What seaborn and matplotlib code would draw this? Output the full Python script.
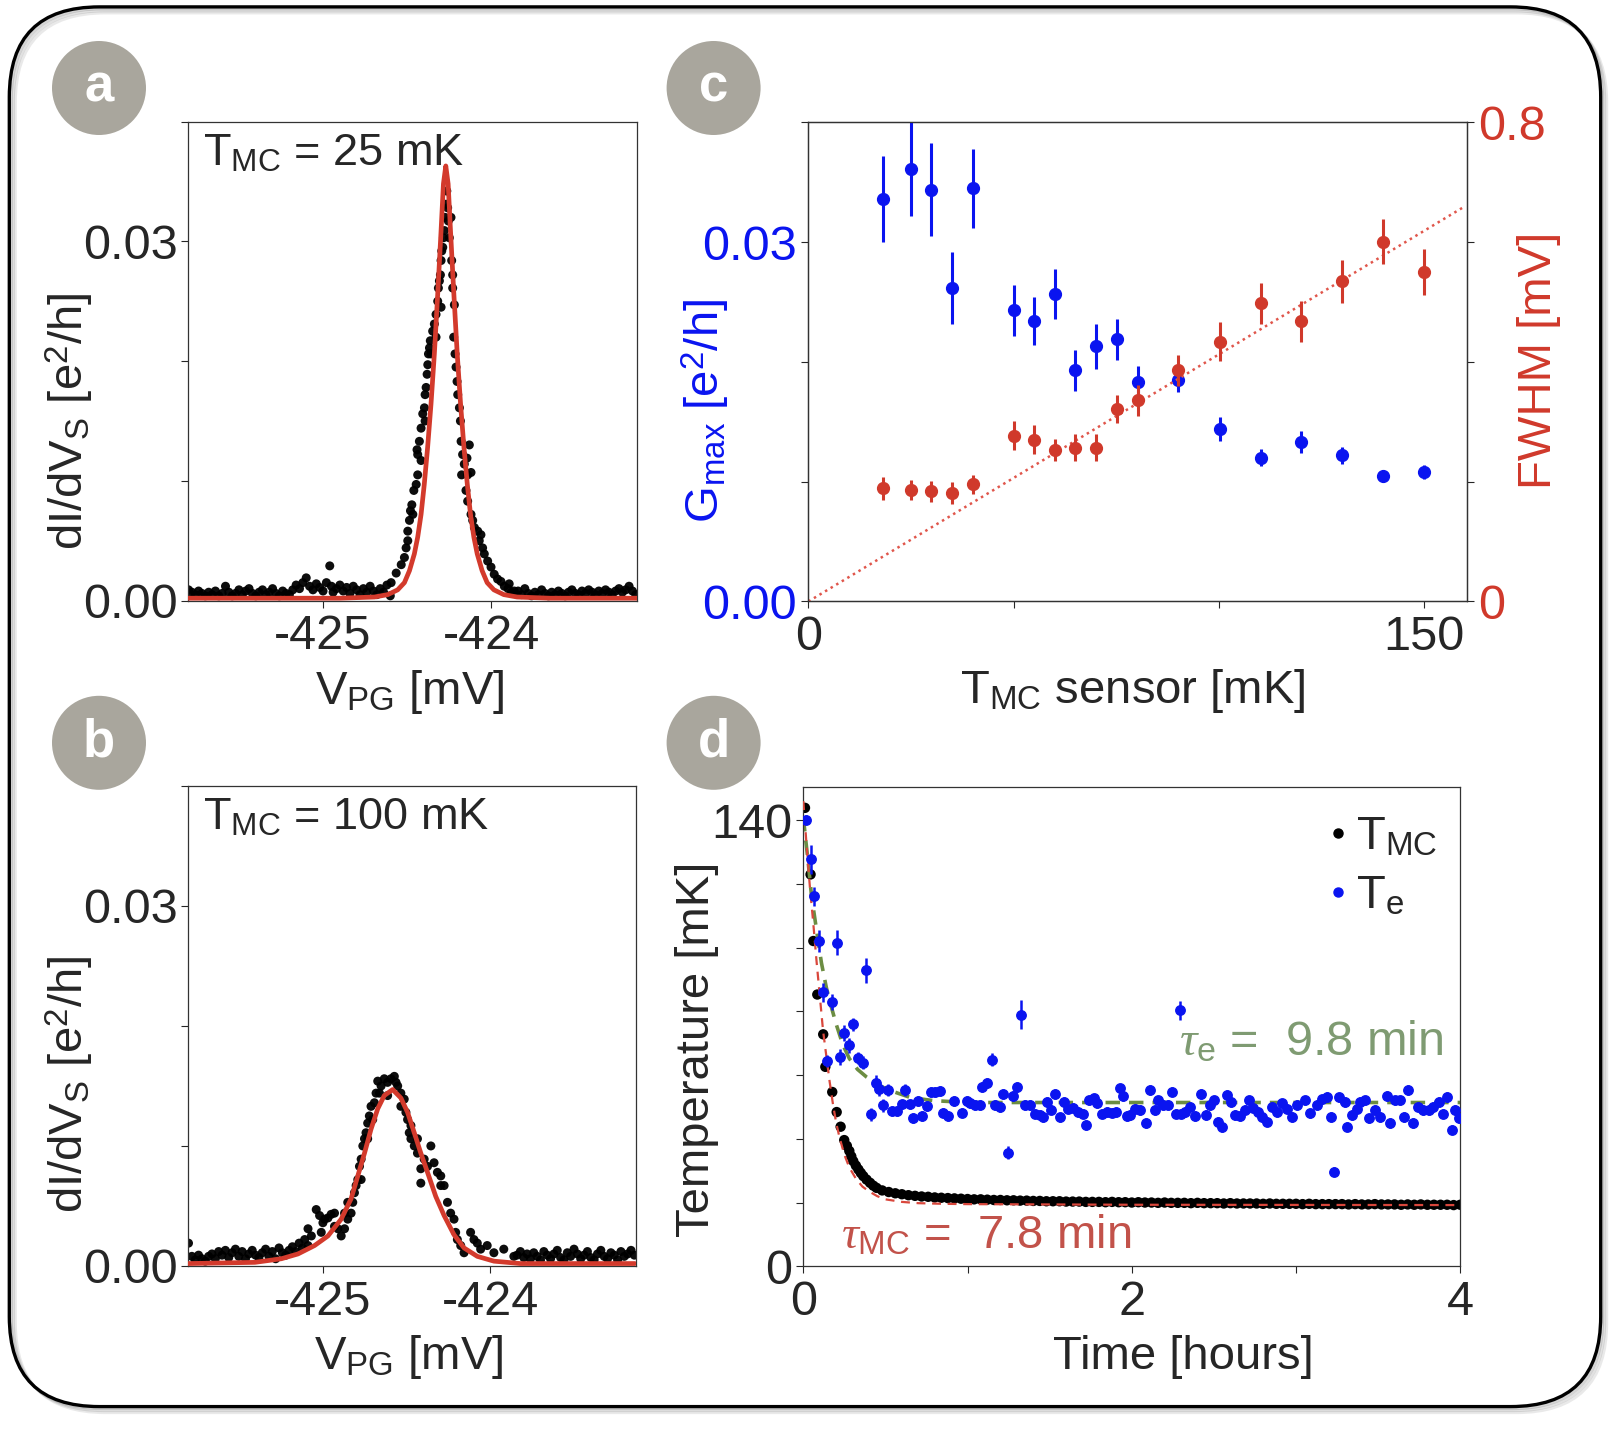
"""Recreate the four-panel temperature / conductance figure."""

import matplotlib
import matplotlib.pyplot as plt
import seaborn as sns
from matplotlib.lines import Line2D
from matplotlib.patches import Circle, FancyBboxPatch

matplotlib.use("Agg")

# ---------------- panel a : T_MC = 25 mK ----------------
a_v = [
    -425.80, -425.78, -425.76, -425.74, -425.72, -425.70, -425.68, -425.66, -425.64, -425.62,
    -425.60, -425.58, -425.56, -425.54, -425.52, -425.50, -425.48, -425.46, -425.44, -425.42,
    -425.40, -425.38, -425.36, -425.34, -425.32, -425.30, -425.28, -425.26, -425.24, -425.22,
    -425.20, -425.18, -425.16, -425.14, -425.12, -425.10, -425.08, -425.06, -425.04, -425.02,
    -425.00, -424.98, -424.96, -424.95, -424.94, -424.92, -424.90, -424.88, -424.86, -424.84,
    -424.82, -424.80, -424.78, -424.76, -424.74, -424.72, -424.70, -424.68, -424.66, -424.64,
    -424.62, -424.60,
    -424.595, -424.565, -424.535, -424.516, -424.506, -424.496, -424.496, -424.486, -424.480,
    -424.472, -424.466, -424.460, -424.446, -424.437, -424.437, -424.441, -424.427, -424.417,
    -424.417, -424.407, -424.397, -424.393, -424.393, -424.387, -424.381, -424.377, -424.373,
    -424.367, -424.362, -424.358, -424.348, -424.338, -424.328, -424.328, -424.318, -424.314,
    -424.308, -424.302, -424.298, -424.298, -424.294, -424.288, -424.284, -424.278, -424.274,
    -424.268, -424.264, -424.259, -424.255, -424.249, -424.239, -424.235, -424.229, -424.229,
    -424.219, -424.223, -424.215, -424.209, -424.203, -424.199, -424.189, -424.183, -424.179,
    -424.170, -424.176, -424.160, -424.144, -424.140, -424.130, -424.120, -424.150, -424.140,
    -424.120, -424.110, -424.100, -424.080, -424.071, -424.061, -424.051, -424.041, -424.021,
    -424.001, -423.982, -423.962, -423.942, -423.922, -423.893, -423.863,
    -423.90, -423.88, -423.84, -423.82, -423.80, -423.78, -423.76, -423.74, -423.72, -423.70,
    -423.68, -423.66, -423.64, -423.62, -423.60, -423.58, -423.56, -423.54, -423.52, -423.50,
    -423.48, -423.46, -423.44, -423.42, -423.40, -423.38, -423.36, -423.34, -423.32, -423.30,
    -423.28, -423.26, -423.24, -423.22, -423.20, -423.18, -423.16, -423.14,
]
a_g = [
    0.0009, 0.0007, 0.0005, 0.0008, 0.0006, 0.0004, 0.0007, 0.0005, 0.0008, 0.0004,
    0.0006, 0.0012, 0.0007, 0.0004, 0.0006, 0.0009, 0.0005, 0.0008, 0.0010, 0.0006,
    0.0004, 0.0007, 0.0009, 0.0005, 0.0007, 0.0010, 0.0006, 0.0004, 0.0008, 0.0006,
    0.0005, 0.0009, 0.0013, 0.0010, 0.0015, 0.0019, 0.0012, 0.0009, 0.0014, 0.0011,
    0.0008, 0.0015, 0.0029, 0.0012, 0.0007, 0.0010, 0.0013, 0.0008, 0.0011, 0.0006,
    0.0012, 0.0009, 0.0005, 0.0010, 0.0007, 0.0012, 0.0008, 0.0005, 0.0010, 0.0007,
    0.0013, 0.0004,
    0.0015, 0.0023, 0.0030, 0.0036, 0.0044, 0.0050, 0.0058, 0.0067, 0.0075,
    0.0080, 0.0072, 0.0092, 0.0097, 0.0105, 0.0122, 0.0126, 0.0133, 0.0144,
    0.0117, 0.0156, 0.0161, 0.0172, 0.0150, 0.0178, 0.0189, 0.0197, 0.0206,
    0.0211, 0.0217, 0.0206, 0.0225, 0.0231, 0.0239, 0.0220, 0.0250, 0.0261,
    0.0267, 0.0272, 0.0284, 0.0245, 0.0292, 0.0295, 0.0303, 0.0309, 0.0320,
    0.0331, 0.0342, 0.0328, 0.0317, 0.0303, 0.0320, 0.0284, 0.0272, 0.0261,
    0.0247, 0.0220, 0.0206, 0.0195, 0.0183, 0.0172, 0.0161, 0.0150, 0.0133,
    0.0122, 0.0105, 0.0114, 0.0119, 0.0105, 0.0130, 0.0107, 0.0092, 0.0083,
    0.0072, 0.0067, 0.0061, 0.0058, 0.0050, 0.0055, 0.0044, 0.0039, 0.0033,
    0.0028, 0.0022, 0.0018, 0.0016, 0.0012, 0.0014, 0.0008,
    0.0010, 0.0007, 0.0008, 0.0005, 0.0010, 0.0006, 0.0004, 0.0007, 0.0005, 0.0009,
    0.0006, 0.0004, 0.0007, 0.0005, 0.0008, 0.0006, 0.0004, 0.0007, 0.0009, 0.0006,
    0.0005, 0.0008, 0.0006, 0.0009, 0.0007, 0.0005, 0.0008, 0.0006, 0.0009, 0.0007,
    0.0005, 0.0008, 0.0010, 0.0007, 0.0009, 0.0012, 0.0008, 0.0005,
]
a_fit_v = [
    -425.80, -424.90, -424.694, -424.615, -424.556, -424.516, -424.486, -424.457, -424.437,
    -424.417, -424.398, -424.378, -424.358, -424.338, -424.318, -424.298, -424.284, -424.270,
    -424.256, -424.242, -424.222, -424.202, -424.182, -424.162, -424.142, -424.123, -424.103,
    -424.083, -424.054, -424.024, -423.984, -423.925, -423.846, -423.65, -423.13,
]
a_fit_g = [
    0.0002, 0.0002, 0.0003, 0.0005, 0.0009, 0.0015, 0.0025, 0.0039, 0.0053,
    0.0072, 0.0097, 0.0128, 0.0164, 0.0206, 0.0256, 0.0309, 0.0348, 0.0363,
    0.0348, 0.0309, 0.0256, 0.0206, 0.0164, 0.0128, 0.0097, 0.0072, 0.0053,
    0.0039, 0.0025, 0.0015, 0.0009, 0.0005, 0.0003, 0.0002, 0.0002,
]

# ---------------- panel b : T_MC = 100 mK ----------------
b_v = [
    -425.80, -425.78, -425.76, -425.74, -425.72, -425.70, -425.68, -425.66, -425.64, -425.62,
    -425.60, -425.58, -425.56, -425.54, -425.52, -425.50, -425.48, -425.46, -425.44, -425.42,
    -425.40, -425.38, -425.36, -425.34, -425.32, -425.30, -425.28, -425.26, -425.24, -425.22,
    -425.20, -425.18, -425.16, -425.14, -425.12,
    -425.107, -425.087, -425.087, -425.067, -425.038, -425.018, -425.008, -424.998, -424.988,
    -424.968, -424.949, -424.929, -424.929, -424.909, -424.889, -424.869, -424.869, -424.850,
    -424.850, -424.830, -424.820, -424.810, -424.800, -424.790, -424.780, -424.770, -424.770,
    -424.760, -424.750, -424.741, -424.731, -424.731, -424.721, -424.711, -424.701, -424.691,
    -424.681, -424.671, -424.661, -424.651, -424.632, -424.612, -424.612, -424.592, -424.572,
    -424.562, -424.552, -424.533, -424.533, -424.513, -424.503, -424.493, -424.483, -424.473,
    -424.473, -424.453, -424.434, -424.434, -424.414, -424.414, -424.394, -424.374, -424.354,
    -424.335, -424.315, -424.295, -424.295, -424.275, -424.255, -424.236, -424.216, -424.206,
    -424.196, -424.176, -424.156, -424.117, -424.097, -424.077, -424.057, -424.018, -423.978,
    -423.919, -423.859,
    -423.84, -423.82, -423.80, -423.78, -423.76, -423.74, -423.72, -423.70, -423.68, -423.66,
    -423.64, -423.62, -423.60, -423.58, -423.56, -423.54, -423.52, -423.50, -423.48, -423.46,
    -423.44, -423.42, -423.40, -423.38, -423.36, -423.34, -423.32, -423.30, -423.28, -423.26,
    -423.24, -423.22, -423.20, -423.18, -423.16, -423.14,
]
b_g = [
    0.0019, 0.0008, 0.0005, 0.0009, 0.0006, 0.0004, 0.0008, 0.0010, 0.0006, 0.0012,
    0.0009, 0.0013, 0.0007, 0.0011, 0.0014, 0.0008, 0.0012, 0.0006, 0.0010, 0.0013,
    0.0009, 0.0007, 0.0011, 0.0014, 0.0008, 0.0012, 0.0006, 0.0015, 0.0011, 0.0009,
    0.0013, 0.0016, 0.0012, 0.0019, 0.0015,
    0.0022, 0.0031, 0.0017, 0.0025, 0.0047, 0.0042, 0.0028, 0.0036, 0.0039,
    0.0040, 0.0043, 0.0044, 0.0033, 0.0031, 0.0025, 0.0031, 0.0044, 0.0039,
    0.0053, 0.0044, 0.0053, 0.0061, 0.0067, 0.0072, 0.0083, 0.0089, 0.0072,
    0.0100, 0.0106, 0.0111, 0.0119, 0.0106, 0.0125, 0.0133, 0.0122, 0.0136,
    0.0144, 0.0154, 0.0144, 0.0150, 0.0156, 0.0153, 0.0142, 0.0156, 0.0158,
    0.0153, 0.0150, 0.0144, 0.0133, 0.0139, 0.0128, 0.0122, 0.0111, 0.0106,
    0.0117, 0.0100, 0.0094, 0.0106, 0.0081, 0.0069, 0.0089, 0.0083, 0.0100,
    0.0086, 0.0078, 0.0075, 0.0067, 0.0067, 0.0053, 0.0044, 0.0039, 0.0028,
    0.0022, 0.0017, 0.0011, 0.0028, 0.0022, 0.0019, 0.0014, 0.0017, 0.0011,
    0.0014, 0.0008,
    0.0009, 0.0012, 0.0007, 0.0010, 0.0006, 0.0011, 0.0008, 0.0005, 0.0012, 0.0009,
    0.0006, 0.0010, 0.0013, 0.0007, 0.0005, 0.0011, 0.0008, 0.0014, 0.0010, 0.0006,
    0.0009, 0.0012, 0.0007, 0.0005, 0.0010, 0.0013, 0.0008, 0.0006, 0.0011, 0.0009,
    0.0005, 0.0012, 0.0008, 0.0010, 0.0013, 0.0009,
]
b_fit_v = [
    -425.80, -425.404, -425.246, -425.147, -425.048, -424.968, -424.889, -424.830, -424.790,
    -424.750, -424.711, -424.671, -424.632, -424.582, -424.533, -424.493, -424.453, -424.414,
    -424.374, -424.325, -424.275, -424.216, -424.156, -424.077, -423.978, -423.820, -423.137,
]
b_fit_g = [
    0.0002, 0.0003, 0.0006, 0.0010, 0.0017, 0.0025, 0.0039, 0.0056, 0.0075,
    0.0094, 0.0114, 0.0131, 0.0142, 0.0147, 0.0140, 0.0128, 0.0111, 0.0094,
    0.0078, 0.0058, 0.0042, 0.0026, 0.0015, 0.0008, 0.0004, 0.0002, 0.0002,
]

# ---------------- panel c : peak height and width vs temperature ----------------
c_t = [18.2, 24.9, 30.0, 35.0, 40.1, 50.0, 55.0, 60.1, 65.1, 70.2,
       75.2, 80.3, 90.1, 100.3, 110.3, 120.0, 130.0, 140.1, 150.1]
c_gmax = [0.0336, 0.0361, 0.0344, 0.0262, 0.0345, 0.0243, 0.0234, 0.0257, 0.0193, 0.0213,
          0.0219, 0.0183, 0.0185, 0.0144, 0.0120, 0.0133, 0.0122, 0.0105, 0.0108]
c_gmax_err = [0.0036, 0.0039, 0.0039, 0.0030, 0.0033, 0.0021, 0.0020, 0.0021, 0.0017, 0.0019,
              0.0017, 0.0014, 0.0010, 0.0010, 0.0007, 0.0009, 0.0007, 0.0003, 0.0006]
c_fwhm = [0.189, 0.186, 0.184, 0.181, 0.196, 0.277, 0.270, 0.253, 0.257, 0.257,
          0.321, 0.336, 0.386, 0.434, 0.498, 0.468, 0.535, 0.601, 0.550]
c_fwhm_err = [0.019, 0.017, 0.018, 0.018, 0.016, 0.024, 0.024, 0.019, 0.022, 0.023,
              0.023, 0.026, 0.026, 0.032, 0.034, 0.034, 0.036, 0.038, 0.038]
c_line_t = [0, 160]
c_line_fwhm = [0, 0.66]

# ---------------- panel d : cool-down after heating ----------------
tmc_h = [
    0.010, 0.044, 0.061, 0.085, 0.121, 0.134, 0.176, 0.203, 0.227, 0.249, 0.265, 0.280,
    0.292, 0.304, 0.320, 0.335, 0.350, 0.365, 0.385, 0.406, 0.426, 0.446,
    0.48, 0.52, 0.56, 0.60, 0.64, 0.68, 0.72, 0.76, 0.80, 0.84, 0.88, 0.92, 0.96, 1.00,
    1.04, 1.08, 1.12, 1.16, 1.20, 1.24, 1.28, 1.32, 1.36, 1.40, 1.44, 1.48, 1.52, 1.56,
    1.60, 1.64, 1.68, 1.72, 1.76, 1.80, 1.84, 1.88, 1.92, 1.96, 2.00, 2.04, 2.08, 2.12,
    2.16, 2.20, 2.24, 2.28, 2.32, 2.36, 2.40, 2.44, 2.48, 2.52, 2.56, 2.60, 2.64, 2.68,
    2.72, 2.76, 2.80, 2.84, 2.88, 2.92, 2.96, 3.00, 3.04, 3.08, 3.12, 3.16, 3.20, 3.24,
    3.28, 3.32, 3.36, 3.40, 3.44, 3.48, 3.52, 3.56, 3.60, 3.64, 3.68, 3.72, 3.76, 3.80,
    3.84, 3.88, 3.92, 3.96, 4.00,
]
tmc_T = [
    143.9, 123.0, 102.1, 85.3, 72.8, 62.6, 54.7, 48.4, 43.8, 39.6, 37.8, 36.2,
    34.5, 33.0, 31.6, 30.4, 29.3, 28.3, 27.2, 26.2, 25.3, 24.6,
    23.8, 23.3, 22.9, 22.6, 22.3, 22.1, 21.9, 21.8, 21.6, 21.5, 21.4, 21.3, 21.2, 21.1,
    21.0, 21.0, 20.9, 20.8, 20.8, 20.7, 20.7, 20.6, 20.6, 20.5, 20.5, 20.4, 20.4, 20.4,
    20.3, 20.3, 20.3, 20.2, 20.2, 20.2, 20.1, 20.2, 20.1, 20.1, 20.0, 20.1, 20.0, 20.0,
    19.9, 20.0, 19.9, 19.9, 19.9, 19.8, 19.9, 19.8, 19.8, 19.8, 19.7, 19.8, 19.7, 19.7,
    19.7, 19.7, 19.6, 19.7, 19.6, 19.6, 19.6, 19.6, 19.5, 19.6, 19.5, 19.5, 19.5, 19.5,
    19.5, 19.4, 19.5, 19.4, 19.4, 19.5, 19.4, 19.4, 19.4, 19.3, 19.4, 19.3, 19.4, 19.3,
    19.3, 19.3, 19.3, 19.2, 19.3,
]
tmc_fit_h = [0.0, 0.02, 0.04, 0.06, 0.08, 0.10, 0.12, 0.14, 0.16, 0.18, 0.20, 0.22,
             0.25, 0.28, 0.32, 0.36, 0.40, 0.45, 0.50, 0.60, 0.70, 0.85, 1.0, 2.0, 4.0]
tmc_fit_T = [146.0, 132.0, 119.0, 108.0, 96.0, 85.0, 74.0, 66.0, 58.0, 51.0, 45.0, 40.5,
             35.0, 31.0, 27.5, 25.0, 23.5, 22.0, 21.0, 20.2, 19.8, 19.6, 19.5, 19.3, 19.2]

te_h = [
    0.016, 0.044, 0.065, 0.097, 0.121, 0.146, 0.172, 0.203, 0.223, 0.247, 0.280, 0.300,
    0.335, 0.365, 0.381, 0.410, 0.442, 0.463, 0.487, 0.517, 0.538, 0.568, 0.599, 0.619,
    0.649, 0.670, 0.700, 0.720, 0.750, 0.775, 0.800, 0.832, 0.852, 0.883, 0.917, 0.964,
    0.994, 1.015, 1.046, 1.076, 1.086, 1.116, 1.147, 1.167, 1.198, 1.218, 1.248, 1.279,
    1.299, 1.325, 1.350, 1.380, 1.410, 1.440, 1.461, 1.486, 1.506, 1.534, 1.563, 1.588,
    1.614, 1.644, 1.675, 1.701, 1.721, 1.741, 1.772, 1.790, 1.817, 1.847, 1.878, 1.904,
    1.929, 1.949, 1.969, 1.989, 2.020, 2.050, 2.085, 2.111, 2.142, 2.162, 2.192, 2.218,
    2.243, 2.267, 2.294, 2.300, 2.324, 2.355, 2.385, 2.421, 2.450, 2.476, 2.503, 2.527,
    2.551, 2.578, 2.604, 2.629, 2.659, 2.690, 2.714, 2.740, 2.771, 2.795, 2.821, 2.852,
    2.882, 2.913, 2.943, 2.974, 3.004, 3.055, 3.085, 3.126, 3.156, 3.187, 3.213, 3.234,
    3.264, 3.298, 3.313, 3.339, 3.370, 3.390, 3.420, 3.447, 3.481, 3.511, 3.552, 3.573,
    3.603, 3.634, 3.658, 3.680, 3.711, 3.740, 3.776, 3.807, 3.837, 3.868, 3.894, 3.920,
    3.947, 3.967, 3.991,
]
te_T = [
    140.2, 127.7, 116.2, 102.1, 86.0, 64.4, 82.9, 101.6, 65.8, 73.3, 69.3, 75.9,
    65.4, 63.9, 92.9, 47.7, 57.6, 55.5, 50.5, 55.3, 48.7, 48.7, 50.8, 55.3,
    50.8, 46.6, 51.8, 47.1, 50.3, 54.7, 54.7, 55.0, 48.2, 47.1, 51.8, 48.2,
    51.8, 51.1, 50.6, 50.6, 56.3, 57.6, 64.9, 50.6, 49.9, 54.0, 35.6, 53.4,
    56.3, 79.0, 50.6, 50.6, 47.9, 47.4, 46.9, 51.6, 49.2, 54.0, 46.7, 51.6,
    49.5, 49.8, 48.5, 47.9, 44.3, 52.1, 52.7, 51.1, 47.9, 48.5, 48.2, 48.5,
    55.8, 53.4, 47.1, 47.4, 49.5, 49.0, 45.0, 55.3, 49.0, 52.1, 50.6, 50.6,
    54.8, 47.9, 80.4, 47.9, 48.5, 50.1, 47.1, 54.0, 47.4, 50.6, 52.1, 45.4,
    43.6, 53.7, 51.6, 47.4, 47.1, 49.2, 52.1, 49.8, 48.5, 46.9, 45.4, 50.1,
    48.5, 51.1, 49.5, 46.9, 50.6, 52.1, 48.0, 50.6, 52.4, 53.2, 46.9, 29.7,
    53.0, 51.6, 43.8, 47.4, 49.5, 51.6, 52.1, 46.4, 49.0, 46.9, 53.4, 45.0,
    52.1, 52.1, 46.9, 55.3, 45.0, 50.1, 49.0, 49.0, 50.1, 51.6, 47.9, 53.2,
    42.9, 49.0, 46.4,
]
te_err = [
    1.5, 4.5, 3.0, 3.4, 3.0, 2.0, 2.5, 3.8, 2.5, 2.5, 2.5, 2.0,
    2.0, 2.0, 4.0, 2.0, 2.5, 2.0, 2.0, 2.0, 1.5, 1.5, 1.5, 2.0,
    1.5, 1.5, 1.5, 1.5, 1.5, 1.5, 1.5, 1.5, 1.5, 1.5, 1.5, 1.5,
    1.5, 1.5, 1.5, 1.5, 1.5, 1.5, 2.0, 1.5, 1.5, 1.5, 2.0, 1.5,
    1.5, 4.5, 1.5, 1.5, 1.5, 1.5, 1.5, 1.5, 1.5, 1.5, 1.5, 1.5,
    1.5, 1.5, 1.5, 1.5, 1.5, 1.5, 1.5, 1.5, 1.5, 1.5, 1.5, 1.5,
    1.5, 1.5, 1.5, 1.5, 1.5, 1.5, 1.5, 1.5, 1.5, 1.5, 1.5, 1.5,
    1.5, 1.5, 3.0, 1.5, 1.5, 1.5, 1.5, 1.5, 1.5, 1.5, 1.5, 1.5,
    1.5, 1.5, 1.5, 1.5, 1.5, 1.5, 1.5, 1.5, 1.5, 1.5, 1.5, 1.5,
    1.5, 1.5, 1.5, 1.5, 1.5, 1.5, 1.5, 1.5, 1.5, 1.5, 1.5, 1.5,
    1.5, 1.5, 1.5, 1.5, 1.5, 1.5, 1.5, 1.5, 1.5, 1.5, 1.5, 1.5,
    1.5, 1.5, 1.5, 1.5, 1.5, 1.5, 1.5, 1.5, 1.5, 1.5, 1.5, 1.5,
    1.5, 1.5, 1.5,
]
te_fit_h = [0.0, 0.01, 0.03, 0.05, 0.08, 0.11, 0.14, 0.17, 0.20, 0.24, 0.28, 0.33,
            0.385, 0.45, 0.51, 0.65, 0.79, 1.0, 4.0]
te_fit_T = [141.0, 136.0, 126.6, 116.2, 105.7, 95.3, 87.5, 81.5, 76.0, 69.6, 65.2, 61.8,
            59.4, 57.2, 55.5, 53.0, 52.0, 51.4, 51.4]

# ---------------- style ----------------
BLUE = "#0a14f0"
RED = "#d0392b"
FIT_RED = "#d33a2c"
GREEN_FIT = "#6c8d42"
GREEN_TXT = "#7f9b72"
RED_TXT = "#c2524a"
GREY = "#a9a69d"
FS = 35      # tick labels
FS_LAB = 34  # axis labels and in-plot text

sns.set_theme(style="ticks")
plt.rcParams["font.family"] = ["Liberation Sans", "DejaVu Sans"]
plt.rcParams.update({
    "mathtext.fontset": "custom",
    "mathtext.rm": "Liberation Sans",
    "mathtext.it": "Liberation Serif:italic",
    "mathtext.bf": "Liberation Sans:bold",
    "axes.edgecolor": "#333333",
    "axes.linewidth": 0.9,
    "xtick.major.size": 5,
    "ytick.major.size": 5,
    "xtick.major.width": 0.8,
    "ytick.major.width": 0.8,
    "xtick.labelsize": FS,
    "ytick.labelsize": FS,
    "axes.labelsize": FS_LAB,
})

fig = plt.figure(figsize=(16.18, 14.29), dpi=100)

# rounded frame with a soft shadow
for off, alpha in [(0.06, 0.18), (0.04, 0.25), (0.02, 0.35)]:
    fig.add_artist(FancyBboxPatch(
        (0.093 + off, 0.224 - off), 15.914, 13.997,
        boxstyle="round,pad=0,rounding_size=0.9", transform=fig.dpi_scale_trans,
        fc="none", ec="#888888", lw=2.2, alpha=alpha, zorder=0))
fig.add_artist(FancyBboxPatch(
    (0.093, 0.224), 15.914, 13.997, boxstyle="round,pad=0,rounding_size=0.9",
    transform=fig.dpi_scale_trans, fc="none", ec="black", lw=2.4, zorder=1))

ax_a = fig.add_axes([0.1165, 0.5797, 0.2775, 0.3352])
ax_b = fig.add_axes([0.1165, 0.1141, 0.2766, 0.3359])
ax_c = fig.add_axes([0.4996, 0.5791, 0.4068, 0.3352])
ax_d = fig.add_axes([0.4965, 0.1139, 0.4060, 0.3357])


def peak_panel(ax, v, g, fit_v, fit_g, label):
    sns.scatterplot(x=v, y=g, ax=ax, color="black", s=42, edgecolor="none",
                    linewidth=0, alpha=0.95, zorder=2)
    sns.lineplot(x=fit_v, y=fit_g, ax=ax, color=FIT_RED, lw=3.4, estimator=None,
                 sort=False, zorder=3)
    ax.set_xlim(-425.80, -423.13)
    ax.set_ylim(0, 0.04)
    ax.set_xticks([-425, -424])
    ax.set_xticklabels(["-425", "-424"])
    ax.set_yticks([0, 0.01, 0.02, 0.03, 0.04])
    ax.set_yticklabels(["0.00", "", "", "0.03", ""])
    ax.tick_params(axis="x", pad=5)
    ax.tick_params(axis="y", pad=3)
    ax.set_xlabel(r"V$_{\rm PG}$ [mV]", va="center")
    ax.set_ylabel(r"dI/dV$_{\rm S}$ [e$^2$/h]", va="center", ha="center")
    ax.xaxis.set_label_coords(0.493, -0.19)
    ax.text(0.032, 0.91, label, transform=ax.transAxes, fontsize=FS_LAB - 1.5,
            va="baseline")


peak_panel(ax_a, a_v, a_g, a_fit_v, a_fit_g, r"T$_{\rm MC}$ = 25 mK")
ax_a.yaxis.set_label_coords(-0.265, 0.375)
peak_panel(ax_b, b_v, b_g, b_fit_v, b_fit_g, r"T$_{\rm MC}$ = 100 mK")
ax_b.yaxis.set_label_coords(-0.265, 0.378)

# ---- panel c ----
ax_c2 = ax_c.twinx()
ax_c.errorbar(c_t, c_gmax, yerr=c_gmax_err, fmt="o", color=BLUE, ms=8.5,
              elinewidth=2.2, capsize=0, zorder=3)
ax_c2.errorbar(c_t, c_fwhm, yerr=c_fwhm_err, fmt="o", color=RED, ms=8.5,
               elinewidth=2.2, capsize=0, zorder=3)
sns.lineplot(x=c_line_t, y=c_line_fwhm, ax=ax_c2, color="#e0564b", lw=1.8,
             linestyle=(0, (1, 1.6)), estimator=None, zorder=2)
ax_c.set_xlim(0, 160.4)
ax_c.set_ylim(0, 0.04)
ax_c2.set_ylim(0, 0.8)
ax_c.set_xticks([0, 50, 100, 150])
ax_c.set_xticklabels(["0", "", "", "150"])
ax_c.set_yticks([0, 0.01, 0.02, 0.03, 0.04])
ax_c.set_yticklabels(["0.00", "", "", "0.03", ""])
ax_c2.set_yticks([0, 0.2, 0.4, 0.6, 0.8])
ax_c2.set_yticklabels(["0", "", "", "", "0.8"])
ax_c.tick_params(axis="y", labelcolor=BLUE, pad=3)
ax_c.tick_params(axis="x", pad=5)
ax_c2.tick_params(axis="y", labelcolor=RED, pad=3)
ax_c.set_xlabel(r"T$_{\rm MC}$ sensor [mK]", va="center")
ax_c.xaxis.set_label_coords(0.493, -0.186)
ax_c.set_ylabel(r"G$_{\rm max}$ [e$^2$/h]", color=BLUE, va="center", ha="center")
ax_c.yaxis.set_label_coords(-0.155, 0.397)
ax_c2.set_ylabel("FWHM [mV]", color=RED, rotation=90, va="center", ha="center")
ax_c2.yaxis.set_label_coords(1.11, 0.504)

# ---- panel d ----
sns.scatterplot(x=tmc_h, y=tmc_T, ax=ax_d, color="black", s=56, edgecolor="none",
                linewidth=0, zorder=2)
sns.lineplot(x=tmc_fit_h, y=tmc_fit_T, ax=ax_d, color="#d9473c", lw=1.6,
             linestyle=(0, (4, 3)), estimator=None, zorder=3)
sns.lineplot(x=te_fit_h, y=te_fit_T, ax=ax_d, color=GREEN_FIT, lw=2.6,
             linestyle=(0, (4, 2.5)), estimator=None, zorder=2.5)
ax_d.errorbar(te_h, te_T, yerr=te_err, fmt="o", color=BLUE, ms=6.8,
              elinewidth=1.8, capsize=0, zorder=4)
ax_d.set_xlim(0, 4)
ax_d.set_ylim(0, 150.6)
ax_d.set_xticks([0, 1, 2, 3, 4])
ax_d.set_xticklabels(["0", "", "2", "", "4"])
ax_d.set_yticks([0, 20, 40, 60, 80, 100, 120, 140])
ax_d.set_yticklabels(["0", "", "", "", "", "", "", "140"])
ax_d.tick_params(axis="x", pad=5)
ax_d.tick_params(axis="y", pad=3)
ax_d.set_xlabel("Time [hours]", va="center")
ax_d.xaxis.set_label_coords(0.579, -0.19)
ax_d.set_ylabel("Temperature [mK]", va="center", ha="center")
ax_d.yaxis.set_label_coords(-0.162, 0.4515)
handles = [Line2D([], [], marker="o", ls="none", color="black", ms=6.5),
           Line2D([], [], marker="o", ls="none", color=BLUE, ms=6.5)]
ax_d.legend(handles, [r"T$_{\rm MC}$", r"T$_{\rm e}$"], loc="upper right",
            bbox_to_anchor=(0.965, 0.94), frameon=False, fontsize=FS_LAB,
            handlelength=0.35, handletextpad=0.2, labelspacing=0.33,
            borderpad=0, borderaxespad=0)
ax_d.text(0.974, 0.44, r"$\tau_{\rm e}$ =  9.8 min", transform=ax_d.transAxes,
          fontsize=35, color=GREEN_TXT, ha="right", va="baseline")
ax_d.text(0.057, 0.037, r"$\tau_{\rm MC}$ =  7.8 min", transform=ax_d.transAxes,
          fontsize=34, color=RED_TXT, ha="left", va="baseline")

# panel letters in grey discs
for letter, cx, cy in [("a", 0.99, 13.41), ("b", 0.99, 6.862),
                       ("c", 7.136, 13.41), ("d", 7.136, 6.862)]:
    fig.add_artist(Circle((cx, cy), 0.47, transform=fig.dpi_scale_trans,
                          fc=GREY, ec="none", zorder=5))
    fig.text(cx, cy, letter, transform=fig.dpi_scale_trans, color="white",
             fontsize=38, fontweight="bold", ha="center", va="center", zorder=6)

for ax in (ax_a, ax_b, ax_c, ax_c2, ax_d):
    for sp in ax.spines.values():
        sp.set_visible(True)
        sp.set_color("#333333")

fig.savefig("out.png", dpi=100, facecolor="white")
